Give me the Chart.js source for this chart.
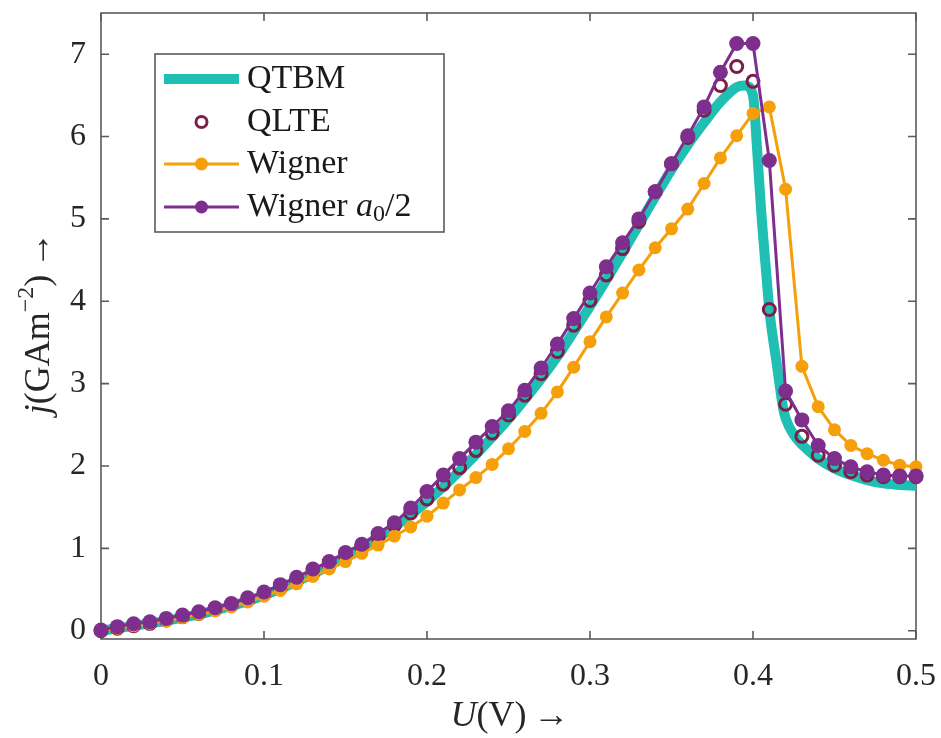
<!DOCTYPE html>
<html>
<head>
<meta charset="utf-8">
<script src="https://cdn.jsdelivr.net/npm/chart.js@4"></script>
<style>
  html, body { margin: 0; padding: 0; background: #fff; }
  #wrap { width: 941px; height: 738px; }
</style>
</head>
<body>
<div id="wrap"><canvas id="chart" width="941" height="738"></canvas></div>
<script>
// U (V), one sample every 10 mV
const voltage = [0, 0.01, 0.02, 0.03, 0.04, 0.05, 0.06, 0.07, 0.08, 0.09,
  0.10, 0.11, 0.12, 0.13, 0.14, 0.15, 0.16, 0.17, 0.18, 0.19,
  0.20, 0.21, 0.22, 0.23, 0.24, 0.25, 0.26, 0.27, 0.28, 0.29,
  0.30, 0.31, 0.32, 0.33, 0.34, 0.35, 0.36, 0.37, 0.38, 0.39,
  0.40, 0.41, 0.42, 0.43, 0.44, 0.45, 0.46, 0.47, 0.48, 0.49, 0.50];

const qlte = [0.00, 0.03, 0.06, 0.09, 0.13, 0.17, 0.21, 0.26, 0.31, 0.37,
  0.44, 0.52, 0.61, 0.70, 0.80, 0.91, 1.02, 1.14, 1.28, 1.43,
  1.60, 1.78, 1.98, 2.19, 2.40, 2.62, 2.86, 3.12, 3.39, 3.71,
  4.01, 4.32, 4.64, 4.97, 5.33, 5.67, 5.99, 6.32, 6.62, 6.85,
  6.67, 3.90, 2.75, 2.36, 2.13, 2.01, 1.93, 1.89, 1.87, 1.87, 1.87];

const wigner = [0.00, 0.03, 0.06, 0.09, 0.12, 0.16, 0.20, 0.24, 0.29, 0.35,
  0.42, 0.49, 0.57, 0.66, 0.75, 0.84, 0.94, 1.04, 1.15, 1.26,
  1.39, 1.55, 1.71, 1.86, 2.02, 2.21, 2.42, 2.64, 2.90, 3.20,
  3.51, 3.81, 4.10, 4.38, 4.65, 4.88, 5.12, 5.43, 5.74, 6.01,
  6.28, 6.36, 5.36, 3.21, 2.72, 2.44, 2.25, 2.15, 2.07, 2.01, 1.99];

const wignerHalf = [0.01, 0.05, 0.085, 0.11, 0.15, 0.19, 0.23, 0.28, 0.33, 0.40,
  0.47, 0.56, 0.65, 0.75, 0.84, 0.95, 1.05, 1.18, 1.31, 1.49,
  1.69, 1.89, 2.09, 2.29, 2.48, 2.67, 2.92, 3.19, 3.48, 3.79,
  4.10, 4.42, 4.71, 5.00, 5.33, 5.67, 6.01, 6.36, 6.78, 7.13,
  7.13, 5.71, 2.91, 2.56, 2.25, 2.09, 1.99, 1.93, 1.89, 1.88, 1.88];

// QTBM is a continuous curve, sampled finer around the drop
const qtbmVoltage = [0, 0.01, 0.02, 0.03, 0.04, 0.05, 0.06, 0.07, 0.08, 0.09,
  0.10, 0.11, 0.12, 0.13, 0.14, 0.15, 0.16, 0.17, 0.18, 0.19,
  0.20, 0.21, 0.22, 0.23, 0.24, 0.25, 0.26, 0.27, 0.28, 0.29,
  0.30, 0.31, 0.32, 0.33, 0.34, 0.35, 0.36, 0.37, 0.38, 0.39,
  0.395, 0.40, 0.4025, 0.405, 0.4085, 0.41, 0.4145, 0.4185, 0.42, 0.425,
  0.43, 0.44, 0.45, 0.46, 0.47, 0.48, 0.49, 0.50];
const qtbm = [0.00, 0.03, 0.06, 0.09, 0.12, 0.16, 0.20, 0.25, 0.30, 0.36,
  0.43, 0.51, 0.60, 0.69, 0.79, 0.90, 1.01, 1.13, 1.26, 1.41,
  1.57, 1.75, 1.94, 2.14, 2.35, 2.57, 2.81, 3.06, 3.33, 3.63,
  3.94, 4.26, 4.59, 4.93, 5.27, 5.60, 5.90, 6.17, 6.42, 6.60,
  6.62, 6.50, 5.85, 5.10, 4.25, 3.90, 3.25, 2.70, 2.58, 2.38,
  2.26, 2.09, 1.97, 1.89, 1.83, 1.79, 1.77, 1.76];

const xTicks = [0, 0.1, 0.2, 0.3, 0.4, 0.5];
const yTicks = [0, 1, 2, 3, 4, 5, 6, 7];

const TEAL = '#1fbfb4';
const MAROON = '#7b1f47';
const ORANGE = '#f5a00a';
const PURPLE = '#7e2f8e';
const AXIS = '#5a5a5a';
const SERIF = '"Liberation Serif", "DejaVu Serif", serif';

function pts(xs, ys) {
  return xs.map((x, i) => ({ x: x, y: ys[i] }));
}

// draw text made of several font runs, centred on (x, y)
function drawRuns(ctx, runs, x, y, align) {
  let total = 0;
  runs.forEach(r => { ctx.font = r.font; total += ctx.measureText(r.t).width; });
  let cx = align === 'left' ? x : x - total / 2;
  ctx.textBaseline = 'middle';
  ctx.textAlign = 'left';
  runs.forEach(r => {
    ctx.font = r.font;
    ctx.fillText(r.t, cx, y + (r.dy || 0));
    cx += ctx.measureText(r.t).width;
  });
}

const framePlugin = {
  id: 'frame',
  beforeDatasetsDraw(chart) {
    const { ctx, chartArea: a, scales } = chart;
    ctx.save();
    ctx.strokeStyle = AXIS;
    ctx.lineWidth = 1.6;
    ctx.strokeRect(a.left, a.top, a.right - a.left, a.bottom - a.top);
    const len = 8;
    ctx.beginPath();
    xTicks.forEach(v => {
      const px = scales.x.getPixelForValue(v);
      ctx.moveTo(px, a.bottom); ctx.lineTo(px, a.bottom - len);
      ctx.moveTo(px, a.top); ctx.lineTo(px, a.top + len);
    });
    yTicks.forEach(v => {
      const py = scales.y.getPixelForValue(v);
      ctx.moveTo(a.left, py); ctx.lineTo(a.left + len, py);
      ctx.moveTo(a.right, py); ctx.lineTo(a.right - len, py);
    });
    ctx.stroke();
    ctx.restore();
  },
  afterDraw(chart) {
    const ctx = chart.ctx;
    ctx.save();
    ctx.fillStyle = '#262626';
    const title = '36px ' + SERIF;
    const titleIt = 'italic 36px ' + SERIF;
    const big = '34px ' + SERIF;
    const bigIt = 'italic 34px ' + SERIF;
    const small = '24px ' + SERIF;

    // axis titles
    drawRuns(ctx, [{ t: 'U', font: titleIt }, { t: '(V)\u2009\u2192', font: title }], 510, 717);
    ctx.save();
    ctx.translate(40, 323);
    ctx.rotate(-Math.PI / 2);
    drawRuns(ctx, [
      { t: 'j', font: titleIt },
      { t: '(GAm', font: title },
      { t: '\u22122', font: small, dy: -13 },
      { t: ')\u2009\u2192', font: title }
    ], 0, 0);
    ctx.restore();

    // legend box
    const bx = 155, by = 54, bw = 289, bh = 178;
    ctx.fillStyle = '#fff';
    ctx.fillRect(bx, by, bw, bh);
    ctx.strokeStyle = AXIS;
    ctx.lineWidth = 1.6;
    ctx.strokeRect(bx, by, bw, bh);

    const rows = [79, 122, 164, 207];
    const x0 = 164, x1 = 239, xm = 201.5, tx = 247;
    ctx.lineCap = 'butt';
    // QTBM
    ctx.strokeStyle = TEAL; ctx.lineWidth = 10;
    ctx.beginPath(); ctx.moveTo(x0, rows[0]); ctx.lineTo(x1, rows[0]); ctx.stroke();
    // QLTE
    ctx.strokeStyle = MAROON; ctx.lineWidth = 3;
    ctx.beginPath(); ctx.arc(xm, rows[1], 5.5, 0, Math.PI * 2); ctx.stroke();
    // Wigner
    ctx.strokeStyle = ORANGE; ctx.fillStyle = ORANGE; ctx.lineWidth = 3;
    ctx.beginPath(); ctx.moveTo(x0, rows[2]); ctx.lineTo(x1, rows[2]); ctx.stroke();
    ctx.beginPath(); ctx.arc(xm, rows[2], 6.5, 0, Math.PI * 2); ctx.fill();
    // Wigner a0/2
    ctx.strokeStyle = PURPLE; ctx.fillStyle = PURPLE;
    ctx.beginPath(); ctx.moveTo(x0, rows[3]); ctx.lineTo(x1, rows[3]); ctx.stroke();
    ctx.beginPath(); ctx.arc(xm, rows[3], 6.5, 0, Math.PI * 2); ctx.fill();

    ctx.fillStyle = '#1a1a1a';
    drawRuns(ctx, [{ t: 'QTBM', font: big }], tx, rows[0], 'left');
    drawRuns(ctx, [{ t: 'QLTE', font: big }], tx, rows[1], 'left');
    drawRuns(ctx, [{ t: 'Wigner', font: big }], tx, rows[2], 'left');
    drawRuns(ctx, [
      { t: 'Wigner ', font: big },
      { t: 'a', font: bigIt },
      { t: '0', font: small, dy: 8 },
      { t: '/2', font: big }
    ], tx, rows[3], 'left');
    ctx.restore();
  }
};

new Chart(document.getElementById('chart').getContext('2d'), {
  type: 'line',
  data: {
    datasets: [
      {
        label: 'Wigner a0/2',
        data: pts(voltage, wignerHalf),
        borderColor: PURPLE,
        backgroundColor: PURPLE,
        borderWidth: 3,
        pointRadius: 7.5,
        pointBorderWidth: 0,
        pointBackgroundColor: PURPLE,
        order: 1,
        clip: false
      },
      {
        label: 'Wigner',
        data: pts(voltage, wigner),
        borderColor: ORANGE,
        backgroundColor: ORANGE,
        borderWidth: 3,
        pointRadius: 6.5,
        pointBorderWidth: 0,
        pointBackgroundColor: ORANGE,
        order: 2,
        clip: false
      },
      {
        label: 'QLTE',
        data: pts(voltage, qlte),
        showLine: false,
        borderColor: MAROON,
        pointRadius: 6,
        pointBorderWidth: 3,
        pointBorderColor: MAROON,
        pointBackgroundColor: 'rgba(0,0,0,0)',
        order: 3,
        clip: false
      },
      {
        label: 'QTBM',
        data: pts(qtbmVoltage, qtbm),
        borderColor: TEAL,
        borderWidth: 10,
        pointRadius: 0,
        cubicInterpolationMode: 'monotone',
        order: 4,
        clip: false
      }
    ]
  },
  options: {
    responsive: false,
    animation: false,
    devicePixelRatio: 1,
    layout: { padding: { top: 13, right: 25, left: 0, bottom: 0 } },
    plugins: { legend: { display: false }, tooltip: { enabled: false } },
    scales: {
      x: {
        type: 'linear',
        min: 0,
        max: 0.5,
        afterBuildTicks: s => { s.ticks = xTicks.map(v => ({ value: v })); },
        afterFit: s => { s.height = 99; s.paddingLeft = 0; s.paddingRight = 0; },
        grid: { display: false, drawTicks: false },
        border: { display: false },
        ticks: {
          padding: 18,
          color: '#262626',
          font: { family: SERIF, size: 32 },
          maxRotation: 0,
          callback: v => (v === 0 ? '0' : v.toFixed(1))
        }
      },
      y: {
        type: 'linear',
        min: -0.1,
        max: 7.5,
        afterBuildTicks: s => { s.ticks = yTicks.map(v => ({ value: v })); },
        afterFit: s => { s.width = 101; s.paddingTop = 0; s.paddingBottom = 0; },
        grid: { display: false, drawTicks: false },
        border: { display: false },
        ticks: {
          padding: 15,
          color: '#262626',
          font: { family: SERIF, size: 32 },
          callback: v => String(v)
        }
      }
    }
  },
  plugins: [framePlugin]
});
</script>
</body>
</html>
